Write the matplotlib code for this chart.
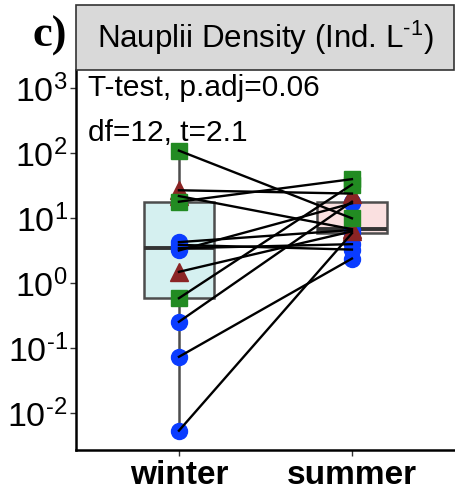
import matplotlib
matplotlib.use("Agg")
import matplotlib.pyplot as plt
from matplotlib.patches import Rectangle
import numpy as np

plt.rcParams['font.family'] = ['Liberation Sans', 'DejaVu Sans']
plt.rcParams['mathtext.fontset'] = 'custom'
plt.rcParams['mathtext.rm'] = 'Liberation Sans'
plt.rcParams['mathtext.it'] = 'Liberation Sans:italic'
plt.rcParams['mathtext.bf'] = 'Liberation Sans:bold'

# ---- data ----
seasons = ["winter", "summer"]
winter_sq = [110, 18, 0.59]
summer_sq = [10, 40, 33]
winter_tri = [27, 22, 1.5]
summer_tri = [24, 6.8, 6.3]
winter_circ = [0.0054, 0.074, 0.256, 3.2, 3.46, 3.9, 4.3]
summer_circ = [5.9, 2.4, 18, 17, 4.0, 3.3, 6.6]
ytick_vals = [1e-2, 1e-1, 1e0, 1e1, 1e2, 1e3]
ytick_labels = [r"$10^{\text{-}2}$", r"$10^{\text{-}1}$", r"$10^{0}$", r"$10^{1}$", r"$10^{2}$", r"$10^{3}$"]
title = r"Nauplii Density (Ind. L$^{\text{-}1}$)"
stat1 = "T-test, p.adj=0.06"
stat2 = "df=12, t=2.1"
panel = "c)"

W, H = 455, 496
fig = plt.figure(figsize=(W / 100, H / 100), dpi=100)
L, R, T, B = 76, 454, 70, 450
ax = fig.add_axes([L / W, 1 - B / H, (R - L) / W, (B - T) / H])

winter_all = winter_sq + winter_tri + winter_circ
summer_all = summer_sq + summer_tri + summer_circ

bp = ax.boxplot([winter_all, summer_all], positions=[1, 2], widths=0.4,
                whis=(0, 100), patch_artist=True, showfliers=False,
                showcaps=False, zorder=1)
for patch, fc in zip(bp['boxes'], ["#D5F0F0", "#FAE0E0"]):
    patch.set_facecolor(fc)
    patch.set_edgecolor("#4D4D4D")
    patch.set_linewidth(1.8)
for w in bp['whiskers']:
    w.set_color("#4D4D4D")
    w.set_linewidth(1.8)
for m in bp['medians']:
    m.set_color("#333333")
    m.set_linewidth(2.8)

ms_kw = dict(linestyle='none', zorder=3)
ax.plot([1] * len(winter_circ), winter_circ, marker='o', ms=11.5, color="#0A3CFF", **ms_kw)
ax.plot([2] * len(summer_circ), summer_circ, marker='o', ms=11.5, color="#0A3CFF", **ms_kw)
ax.plot([1] * len(winter_tri), winter_tri, marker='^', ms=13, color="#8B2424", **ms_kw)
ax.plot([2] * len(summer_tri), summer_tri, marker='^', ms=13, color="#8B2424", **ms_kw)
ax.plot([1] * len(winter_sq), winter_sq, marker='s', ms=11, color="#228B22", **ms_kw)
ax.plot([2] * len(summer_sq), summer_sq, marker='s', ms=11, color="#228B22", **ms_kw)

for a, b in zip(winter_all, summer_all):
    ax.plot([1, 2], [a, b], color="black", lw=1.7, zorder=4)

ax.set_yscale('log')
ax.set_ylim(10 ** -2.5646, 10 ** 3.2815)
ax.set_xlim(0.405, 2.59)
ax.set_yticks(ytick_vals)
ax.set_yticklabels(ytick_labels, fontsize=24.5)
ax.yaxis.set_minor_locator(matplotlib.ticker.NullLocator())
ax.set_xticks([1, 2])
ax.set_xticklabels(seasons, fontsize=24, fontweight='bold')
ax.tick_params(axis='both', length=4, width=1, color="#333333", pad=3)
ax.tick_params(axis='y', pad=2)
for s in ['top', 'right']:
    ax.spines[s].set_visible(False)
for s in ['left', 'bottom']:
    ax.spines[s].set_linewidth(1.8)
    ax.spines[s].set_color('black')

# strip
strip = Rectangle((L / W, 1 - T / H), (R - L) / W, (T - 5) / H, transform=fig.transFigure,
                  facecolor="#D9D9D9", edgecolor="#333333", linewidth=1.2)
fig.patches.append(strip)
fig.text((L + R) / 2 / W, 1 - 38 / H, title, ha='center', va='center', fontsize=22.5)

fig.text(88 / W, 1 - 96 / H, stat1, ha='left', va='baseline', fontsize=21.5)
fig.text(88 / W, 1 - 141 / H, stat2, ha='left', va='baseline', fontsize=21.5)
fig.text(32 / W, 1 - 47 / H, panel, ha='left', va='baseline', fontsize=32,
         fontweight='bold', family='Liberation Serif')

fig.savefig("out.png", dpi=100)
